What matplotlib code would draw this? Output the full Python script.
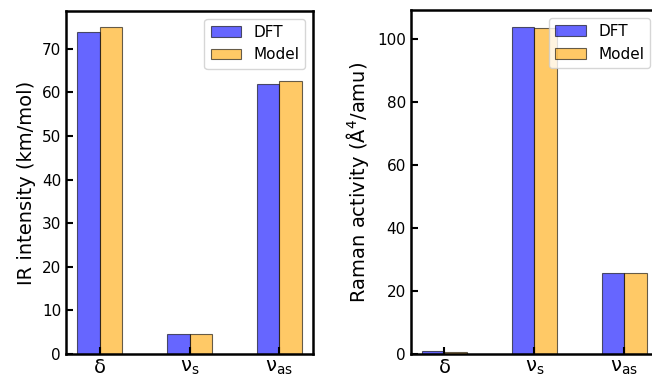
import matplotlib
matplotlib.use("Agg")
import matplotlib.pyplot as plt
import numpy as np

modes = [r'$\mathregular{\delta}$', r'$\mathregular{\nu_s}$', r'$\mathregular{\nu_{as}}$']
ir_dft = [73.8, 4.7, 61.9]
ir_model = [74.9, 4.7, 62.6]
raman_dft = [1.05, 103.9, 25.6]
raman_model = [0.6, 103.4, 25.6]

x = np.arange(len(modes))
w = 0.25

fig = plt.figure(figsize=(6.52, 3.76), dpi=100)
ax1 = fig.add_axes([0.1012, 0.0585, 0.379, 0.912])
ax2 = fig.add_axes([0.630, 0.0585, 0.379, 0.914])


def draw(ax, dft, model, ylabel):
    ax.bar(x - w/2, dft, w, color='blue', alpha=0.6, edgecolor='k', linewidth=0.8, label='DFT')
    ax.bar(x + w/2, model, w, color='orange', alpha=0.6, edgecolor='k', linewidth=0.8, label='Model')
    ax.set_xticks(x)
    ax.set_xticklabels(modes)
    ax.set_ylabel(ylabel, fontsize=14)
    ax.tick_params(direction='in', length=5, width=1.5)
    ax.tick_params(axis='y', labelsize=11)
    ax.tick_params(axis='x', labelsize=14, pad=3)
    for s in ax.spines.values():
        s.set_linewidth(1.8)
    ax.legend(loc='upper right', fontsize=11)


draw(ax1, ir_dft, ir_model, 'IR intensity (km/mol)')
draw(ax2, raman_dft, raman_model, r'Raman activity ($\mathrm{\AA}^4$/amu)')

plt.savefig('out.png', dpi=100)
